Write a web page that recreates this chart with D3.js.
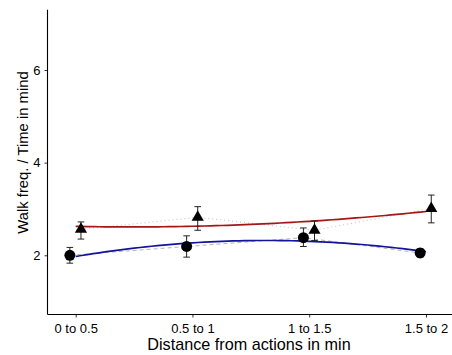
<!DOCTYPE html>
<html><head><meta charset="utf-8">
<script src="https://cdn.jsdelivr.net/npm/d3@7"></script>
<style>body{margin:0;background:#fff}svg{display:block}text{font-family:"Liberation Sans",Arial,sans-serif;fill:#000}</style>
</head><body><svg id="c" width="452" height="355"></svg>
<script>
const categories = ["0 to 0.5", "0.5 to 1", "1 to 1.5", "1.5 to 2"];
const yTicks = [2, 4, 6];
const circleMean = [2.00, 2.19, 2.38, 2.05];
const circleLow  = [1.83, 1.96, 2.19, 1.96];
const circleHigh = [2.17, 2.42, 2.59, 2.14];
const triMean = [2.56, 2.82, 2.54, 3.01];
const triLow  = [2.35, 2.54, 2.32, 2.70];
const triHigh = [2.72, 3.05, 2.74, 3.30];

const svg = d3.select("#c");
const x = d3.scaleLinear().domain([1, 4]).range([75.7, 426]);
const y = d3.scaleLinear().domain([0.7, 7.3]).range([315.5, 9.8]);
const xLeft = 47.5, yBottom = 314.5;

// quadratic least squares fit (like geom_smooth with poly(x,2))
function quadFit(vals) {
  const xs = vals.map((v, i) => i + 1);
  let S = [[0,0,0],[0,0,0],[0,0,0]], b = [0,0,0];
  xs.forEach((xi, i) => {
    const p = [1, xi, xi*xi];
    for (let r = 0; r < 3; r++) { b[r] += p[r]*vals[i]; for (let c = 0; c < 3; c++) S[r][c] += p[r]*p[c]; }
  });
  for (let k = 0; k < 3; k++) {
    for (let r = k+1; r < 3; r++) {
      const f = S[r][k]/S[k][k];
      for (let c = k; c < 3; c++) S[r][c] -= f*S[k][c];
      b[r] -= f*b[k];
    }
  }
  const co = [0,0,0];
  for (let r = 2; r >= 0; r--) {
    let s = b[r];
    for (let c = r+1; c < 3; c++) s -= S[r][c]*co[c];
    co[r] = s/S[r][r];
  }
  return t => co[0] + co[1]*t + co[2]*t*t;
}

const ts = d3.range(1, 4.0001, 0.05);
const line = d3.line().x(d => x(d[0])).y(d => y(d[1]));

const dodgeC = -0.05, dodgeT = 0.045;
const cPts = circleMean.map((v, i) => [i + 1 + dodgeC, v]);
const tPts = triMean.map((v, i) => [i + 1 + dodgeT, v]);

// grey connecting lines
svg.append("path").attr("d", line(cPts)).attr("fill", "none").attr("stroke", "#b5b5b5").attr("stroke-width", 1).attr("stroke-dasharray", "4,3");
svg.append("path").attr("d", line(tPts)).attr("fill", "none").attr("stroke", "#c0c0c0").attr("stroke-width", 1).attr("stroke-dasharray", "1,3");

// smooth fits
const fC = quadFit(circleMean), fT = quadFit(triMean);
svg.append("path").attr("d", line(ts.map(t => [t, fT(t)]))).attr("fill", "none").attr("stroke", "#a51616").attr("stroke-width", 1.7);
svg.append("path").attr("d", line(ts.map(t => [t, fC(t)]))).attr("fill", "none").attr("stroke", "#14149a").attr("stroke-width", 1.7);

// error bars
function errBars(means, lows, highs, dodge) {
  means.forEach((m, i) => {
    const cx = x(i + 1 + dodge), y0 = y(lows[i]), y1 = y(highs[i]);
    const g = svg.append("g").attr("stroke", "#222").attr("stroke-width", 1);
    g.append("line").attr("x1", cx).attr("x2", cx).attr("y1", y0).attr("y2", y1);
    g.append("line").attr("x1", cx - 3.3).attr("x2", cx + 3.3).attr("y1", y0).attr("y2", y0);
    g.append("line").attr("x1", cx - 3.3).attr("x2", cx + 3.3).attr("y1", y1).attr("y2", y1);
  });
}
errBars(circleMean, circleLow, circleHigh, dodgeC);
errBars(triMean, triLow, triHigh, dodgeT);

// points
svg.selectAll("circle.pt").data(cPts).enter().append("circle")
  .attr("cx", d => x(d[0])).attr("cy", d => y(d[1])).attr("r", 5.5).attr("fill", "#000");
svg.selectAll("path.tri").data(tPts).enter().append("path")
  .attr("d", d3.symbol().type(d3.symbolTriangle).size(64))
  .attr("transform", d => `translate(${x(d[0])},${y(d[1])})`).attr("fill", "#000");

// axes
const gx = svg.append("g").attr("transform", `translate(0,${yBottom})`)
  .call(d3.axisBottom(x).tickValues([1,2,3,4]).tickFormat((d, i) => categories[i]).tickSize(3).tickPadding(6));
gx.select(".domain").remove();
svg.append("line").attr("x1", xLeft).attr("x2", 452).attr("y1", yBottom).attr("y2", yBottom).attr("stroke", "#000").attr("stroke-width", 1.1);
const gy = svg.append("g").attr("transform", `translate(${xLeft},0)`)
  .call(d3.axisLeft(y).tickValues(yTicks).tickFormat(d3.format("d")).tickSize(3).tickPadding(4));
gy.select(".domain").remove();
svg.append("line").attr("x1", xLeft).attr("x2", xLeft).attr("y1", 9.8).attr("y2", yBottom).attr("stroke", "#000").attr("stroke-width", 1.1);
svg.selectAll(".tick line").attr("stroke", "#333");
svg.selectAll(".tick text").attr("font-size", 13).attr("fill", "#222").attr("font-family", "Liberation Sans, Arial, sans-serif");

svg.append("text").attr("x", 249).attr("y", 350).attr("text-anchor", "middle").attr("font-size", 16.2).text("Distance from actions in min");
svg.append("text").attr("transform", "translate(27.5,152.5) rotate(-90)").attr("text-anchor", "middle").attr("font-size", 14.8).text("Walk freq. / Time in mind");
</script></body></html>
